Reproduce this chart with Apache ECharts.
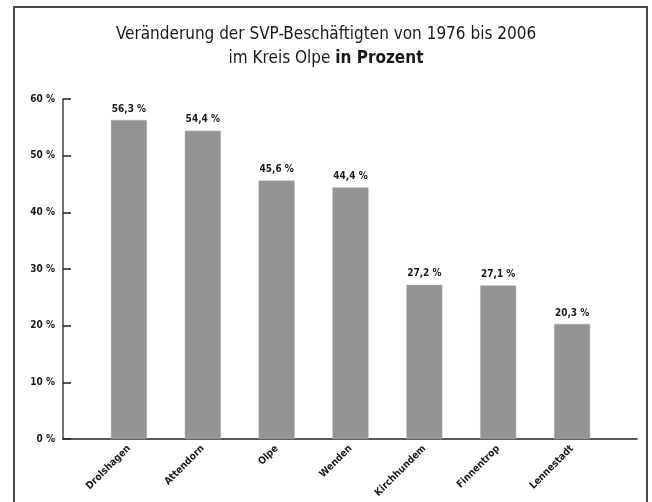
<!DOCTYPE html>
<html>
<head>
<meta charset="utf-8">
<script src="https://cdn.jsdelivr.net/npm/echarts@6/dist/echarts.min.js"></script>
<style>
  html, body { margin: 0; padding: 0; background: #fff; }
  #chart { width: 652px; height: 502px; }
</style>
</head>
<body>
<div id="chart"></div>
<script>
// Kommunen im Kreis Olpe
let categories = ['Drolshagen', 'Attendorn', 'Olpe', 'Wenden', 'Kirchhundem', 'Finnentrop', 'Lennestadt'];
// Veränderung 1976-2006 in %
let values = [56.3, 54.4, 45.6, 44.4, 27.2, 27.1, 20.3];
let yTicks = [0, 10, 20, 30, 40, 50, 60];

let fmt = v => v.toFixed(1).replace('.', ',') + ' %';
let chart = echarts.init(document.getElementById('chart'));
let font = '"DejaVu Sans Condensed", "DejaVu Sans", sans-serif';

let option = {
	animation: false,
	backgroundColor: '#fff',
	title: {
		text: '{n|Veränderung der SVP-Beschäftigten von 1976 bis 2006}\n{n|im Kreis Olpe }{b|in Prozent}',
		left: 'center',
		top: 18,
		textStyle: {
			fontWeight: 'normal',
			rich: {
				n: { fontFamily: font, fontSize: 17, fontWeight: 'normal', color: '#1a1a1a', lineHeight: 24 },
				b: { fontFamily: font, fontSize: 17, fontWeight: 'bold', color: '#1a1a1a', lineHeight: 24 }
			}
		}
	},
	graphic: [{
		type: 'rect',
		shape: { x: 14, y: 7, width: 633, height: 520 },
		style: { fill: null, stroke: '#4a4a4a', lineWidth: 2 },
		silent: true
	}],
	grid: [
		{ left: 63, right: 15, top: 99, bottom: 63 },
		{ left: 92, right: 43, top: 99, bottom: 63 }
	],
	xAxis: [{
		gridIndex: 0,
		type: 'category',
		data: [''],
		axisLine: { lineStyle: { color: '#222', width: 1.5 } },
		axisTick: { show: false },
		axisLabel: { show: false }
	}, {
		gridIndex: 1,
		type: 'category',
		data: categories,
		axisLine: { show: false },
		axisTick: { show: false },
		axisLabel: {
			rotate: 45,
			margin: 8,
			fontFamily: font,
			fontSize: 10,
			fontWeight: 'bold',
			color: '#1a1a1a'
		}
	}],
	yAxis: [{
		gridIndex: 0,
		type: 'value',
		min: 0,
		max: 60,
		interval: 10,
		axisLine: { show: true, lineStyle: { color: '#444', width: 1.5 } },
		axisTick: { show: true, inside: true, length: 8, lineStyle: { color: '#222', width: 1.5 } },
		splitLine: { show: false },
		axisLabel: {
			formatter: v => yTicks.includes(v) ? v + ' %' : '',
			margin: 8,
			fontFamily: font,
			fontSize: 10,
			fontWeight: 'bold',
			color: '#1a1a1a'
		}
	}, {
		gridIndex: 1,
		type: 'value',
		min: 0,
		max: 60,
		interval: 10,
		show: false
	}],
	series: [{
		type: 'bar',
		xAxisIndex: 1,
		yAxisIndex: 1,
		data: values,
		barWidth: 36,
		itemStyle: { color: '#949494', borderColor: '#a8a8a8', borderWidth: 0.5 },
		label: {
			show: true,
			position: 'top',
			distance: 6,
			formatter: p => fmt(p.value),
			fontFamily: font,
			fontSize: 10,
			fontWeight: 'bold',
			color: '#1a1a1a'
		}
	}]
};
chart.setOption(option);
</script>
</body>
</html>
